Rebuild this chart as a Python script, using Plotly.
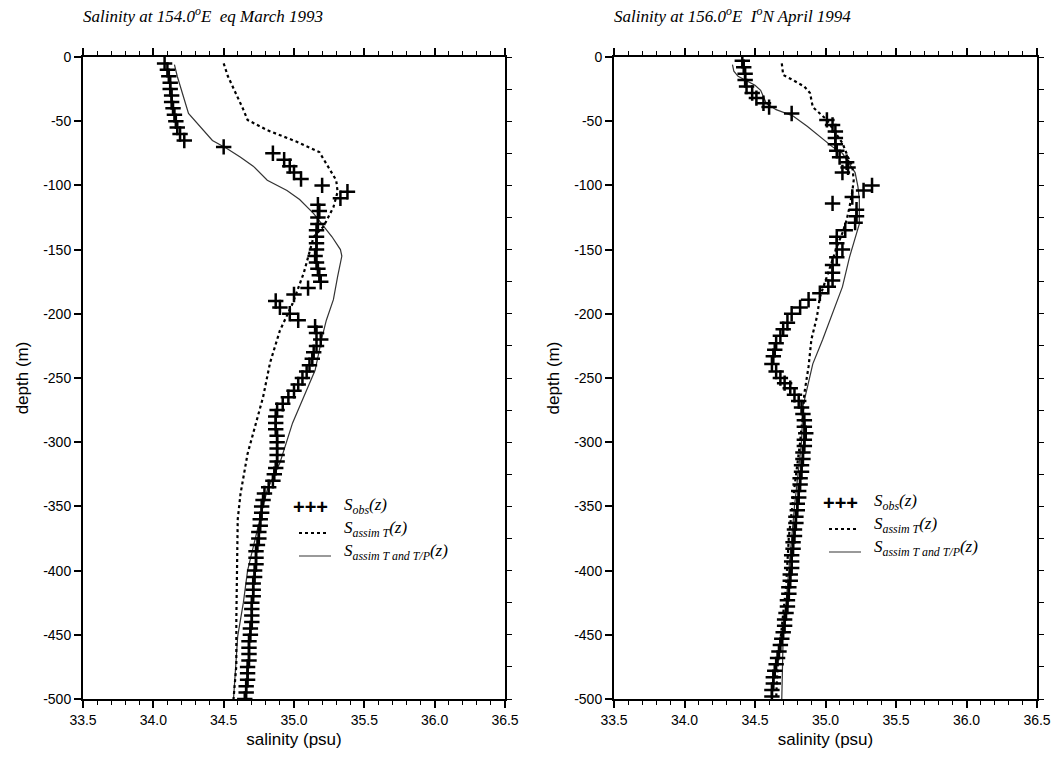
import plotly.graph_objects as go

# ---------------- data ----------------
# Left panel: 154.0E eq March 1993
obs1_depth = [-5, -10, -15, -20, -25, -30, -35, -40, -45, -50, -55, -60, -65,
              -70, -75, -80, -85, -90, -95, -100, -105, -110,
              -115, -120, -125, -130, -135, -140, -145, -150, -155, -160, -165, -170, -175,
              -180, -185, -190, -195, -200, -205, -210, -215, -220,
              -225, -230, -235, -240, -245, -250, -255, -260, -265, -270, -275,
              -280, -285, -290, -295, -300, -305, -310, -315, -320, -325, -330,
              -335, -340, -345, -350, -355, -360, -365, -370, -375, -380, -385,
              -390, -395, -400, -405, -410, -415, -420, -425, -430, -435, -440,
              -445, -450, -455, -460, -465, -470, -475, -480, -485, -490, -495, -500]
obs1_sal = [34.08, 34.10, 34.11, 34.12, 34.12, 34.13, 34.13, 34.14, 34.15, 34.16, 34.17, 34.19, 34.22,
            34.50, 34.85, 34.93, 34.97, 35.00, 35.05, 35.20, 35.38, 35.33,
            35.17, 35.18, 35.17, 35.17, 35.16, 35.16, 35.16, 35.16, 35.15, 35.16, 35.17, 35.18, 35.19,
            35.10, 35.00, 34.87, 34.90, 34.97, 35.03, 35.15, 35.16, 35.19,
            35.16, 35.14, 35.13, 35.11, 35.09, 35.06, 35.03, 35.00, 34.96, 34.92, 34.88,
            34.87, 34.87, 34.87, 34.88, 34.88, 34.88, 34.88, 34.88, 34.87, 34.86, 34.85,
            34.82, 34.79, 34.78, 34.77, 34.77, 34.76, 34.76, 34.75, 34.75, 34.74, 34.73,
            34.73, 34.73, 34.72, 34.72, 34.71, 34.71, 34.71, 34.70, 34.70, 34.70, 34.70,
            34.69, 34.69, 34.68, 34.68, 34.68, 34.68, 34.67, 34.67, 34.67, 34.66, 34.66, 34.65]

assimT1_depth = [-5, -15, -41, -49, -57, -66, -74, -96, -105, -117, -132, -140, -168, -192,
                 -213, -238, -265, -289, -309, -340, -360, -438, -474, -500]
assimT1_sal = [34.50, 34.53, 34.64, 34.67, 34.81, 35.02, 35.18, 35.30, 35.31, 35.28, 35.21, 35.14,
               35.07, 34.99, 34.90, 34.83, 34.78, 34.72, 34.67, 34.62, 34.60, 34.59, 34.59, 34.57]

assimTP1_depth = [-6, -15, -44, -54, -65, -71, -78, -85, -96, -104, -111, -122, -132, -140, -150,
                  -155, -171, -189, -205, -218, -244, -265, -285, -316, -337, -368, -400, -425,
                  -451, -500]
assimTP1_sal = [34.15, 34.17, 34.25, 34.33, 34.42, 34.52, 34.62, 34.71, 34.81, 34.95, 35.04, 35.14,
                35.21, 35.27, 35.33, 35.34, 35.31, 35.28, 35.23, 35.20, 35.15, 35.07, 34.99, 34.90,
                34.81, 34.74, 34.67, 34.64, 34.60, 34.57]

# Right panel: 156.0E 1N April 1994
obs2_depth = [-3, -8, -13, -18, -23, -28, -32, -36, -39, -44, -49, -53, -58, -63, -68, -73, -78,
              -82, -86, -90, -100, -104, -109, -114, -119, -124, -129, -135, -140, -145, -150,
              -156, -162, -168, -174, -179, -184, -189, -195, -200, -207, -212, -217, -223, -228,
              -233, -239, -245, -250, -254, -258, -263, -268, -273, -278, -283, -288, -293,
              -298, -303, -308, -313, -318, -323, -328, -333, -338, -343, -348, -353, -358,
              -363, -368, -373, -378, -383, -388, -393, -398, -403, -408, -413, -418, -423,
              -428, -433, -438, -443, -448, -453, -458, -463, -468, -473, -478, -483, -488,
              -493, -498]
obs2_sal = [34.41, 34.42, 34.43, 34.43, 34.44, 34.48, 34.51, 34.56, 34.60, 34.76, 35.01, 35.05,
            35.07, 35.07, 35.07, 35.08, 35.10, 35.15, 35.16, 35.12, 35.33, 35.27, 35.19, 35.05,
            35.22, 35.22, 35.21, 35.14, 35.08, 35.08, 35.12, 35.08, 35.05, 35.05, 35.05, 35.02,
            34.96, 34.88, 34.82, 34.76, 34.73, 34.70, 34.68, 34.65, 34.64, 34.63, 34.62, 34.65,
            34.68, 34.71, 34.75, 34.78, 34.81, 34.83, 34.84, 34.85, 34.85, 34.86,
            34.85, 34.85, 34.84, 34.84, 34.83, 34.83, 34.82, 34.82, 34.81, 34.81, 34.80, 34.80,
            34.79, 34.79, 34.78, 34.78, 34.77, 34.77, 34.76, 34.76, 34.76, 34.75, 34.75, 34.74,
            34.74, 34.73, 34.73, 34.72, 34.71, 34.71, 34.70, 34.69, 34.68, 34.67, 34.66, 34.65,
            34.64, 34.63, 34.63, 34.62, 34.62]

assimT2_depth = [-5, -14, -18, -23, -28, -39, -44, -49, -59, -67, -78, -85, -96, -105, -117, -127,
                 -137, -148, -171, -187, -202, -220, -241, -262, -277, -300, -335, -374, -413,
                 -452, -475, -500]
assimT2_sal = [34.69, 34.70, 34.77, 34.85, 34.89, 34.91, 34.96, 35.01, 35.07, 35.12, 35.16, 35.19,
               35.20, 35.19, 35.17, 35.15, 35.12, 35.08, 35.01, 34.96, 34.94, 34.90, 34.88, 34.85,
               34.84, 34.82, 34.78, 34.74, 34.72, 34.68, 34.66, 34.65]

assimTP2_depth = [-6, -11, -15, -19, -22, -26, -36, -41, -46, -54, -62, -70, -75, -83, -90, -101,
                  -111, -130, -137, -156, -179, -200, -220, -239, -257, -272, -300, -350, -400,
                  -450, -500]
assimTP2_sal = [34.34, 34.35, 34.38, 34.45, 34.50, 34.54, 34.58, 34.65, 34.77, 34.87, 34.96, 35.05,
                35.12, 35.17, 35.21, 35.23, 35.24, 35.24, 35.22, 35.17, 35.12, 35.05, 34.98, 34.91,
                34.87, 34.84, 34.83, 34.78, 34.74, 34.70, 34.69]

titles = ["Salinity at 154.0<sup>o</sup>E\u00a0\u00a0eq March 1993",
          "Salinity at 156.0<sup>o</sup>E\u00a0\u00a0I<sup>o</sup>N April 1994"]
legend_names = ["S<sub>obs</sub>(z)", "S<sub>assim T</sub>(z)", "S<sub>assim T and T/P</sub>(z)"]
xtick_vals = [33.5, 34.0, 34.5, 35.0, 35.5, 36.0, 36.5]
xtick_text = ["33.5", "34.0", "34.5", "35.0", "35.5", "36.0", "36.5"]
ytick_vals = [0, -50, -100, -150, -200, -250, -300, -350, -400, -450, -500]
ytick_text = ["0", "-50", "-100", "-150", "-200", "-250", "-300", "-350", "-400", "-450", "-500"]

# ---------------- figure ----------------
W, H = 1064, 761
SERIF = "Liberation Serif"
SANS = "Liberation Sans"

fig = go.Figure()

panels = [
    dict(obs=(obs1_sal, obs1_depth), t=(assimT1_sal, assimT1_depth), tp=(assimTP1_sal, assimTP1_depth),
         xa="x", ya="y"),
    dict(obs=(obs2_sal, obs2_depth), t=(assimT2_sal, assimT2_depth), tp=(assimTP2_sal, assimTP2_depth),
         xa="x2", ya="y2"),
]

for p in panels:
    fig.add_trace(go.Scatter(x=p["tp"][0], y=p["tp"][1], mode="lines", xaxis=p["xa"], yaxis=p["ya"],
                             line=dict(color="#333333", width=1.2), showlegend=False,
                             name=legend_names[2]))
    fig.add_trace(go.Scatter(x=p["t"][0], y=p["t"][1], mode="lines", xaxis=p["xa"], yaxis=p["ya"],
                             line=dict(color="black", width=2.2, dash="3px,3px"), showlegend=False,
                             name=legend_names[1]))
    fig.add_trace(go.Scatter(x=p["obs"][0], y=p["obs"][1], mode="markers", xaxis=p["xa"], yaxis=p["ya"],
                             marker=dict(symbol="cross-thin", size=11, color="black",
                                         line=dict(color="black", width=2.5)),
                             showlegend=False, name=legend_names[0]))

x_domains = [[83 / W, 505 / W], [614 / W, 1037 / W]]
y_domain = [1 - 699 / H, 1 - 57 / H]

common_x = dict(range=[33.5, 36.5], tickvals=xtick_vals, ticktext=xtick_text,
                ticks="outside", ticklen=7, tickwidth=1.5, tickcolor="black",
                showline=True, linewidth=2, linecolor="black", mirror="ticks",
                showgrid=False, zeroline=False, automargin=False,
                minor=dict(dtick=0.1, ticks="outside", ticklen=4, tickwidth=1, tickcolor="black",
                           showgrid=False),
                tickfont=dict(family=SANS, size=14, color="black"),
                title=dict(text="salinity (psu)", font=dict(family=SANS, size=17, color="black"),
                           standoff=6))
common_y = dict(range=[-500, 0], tickvals=ytick_vals, ticktext=ytick_text,
                ticks="outside", ticklen=7, tickwidth=1.5, tickcolor="black",
                showline=True, linewidth=2, linecolor="black", mirror=True,
                showgrid=False, zeroline=False, automargin=False,
                tickfont=dict(family=SANS, size=14, color="black"),
                title=dict(text="depth (m)", font=dict(family=SANS, size=17, color="black"),
                           standoff=10))
# right-hand tick-only axis (ticks every 25 m, no labels)
right_y = dict(range=[-500, 0], dtick=25, tick0=0, ticks="outside", ticklen=6, tickwidth=1.3,
               tickcolor="black", showticklabels=False, showline=False, showgrid=False,
               zeroline=False, side="right", automargin=False)

fig.update_layout(
    width=W, height=H, margin=dict(l=0, r=0, t=0, b=0),
    paper_bgcolor="white", plot_bgcolor="white", showlegend=False,
    xaxis=dict(domain=x_domains[0], anchor="y", **common_x),
    yaxis=dict(domain=y_domain, anchor="x", **common_y),
    xaxis2=dict(domain=x_domains[1], anchor="y2", **common_x),
    yaxis2=dict(domain=y_domain, anchor="x2", **common_y),
    yaxis3=dict(overlaying="y", anchor="x", **right_y),
    yaxis4=dict(overlaying="y2", anchor="x2", **right_y),
)

# invisible traces to activate the right-hand tick axes
for xa, ya in (("x", "y3"), ("x2", "y4")):
    fig.add_trace(go.Scatter(x=[None], y=[None], xaxis=xa, yaxis=ya, mode="markers",
                             showlegend=False, hoverinfo="skip"))

# titles
for i, t in enumerate(titles):
    fig.add_annotation(text="<i>" + t + "</i>", xref="paper", yref="paper",
                       x=x_domains[i][0] - 2 / W, y=1 - 15 / H, xanchor="left", yanchor="middle",
                       showarrow=False, font=dict(family=SERIF, size=17, color="black"))

# custom legends (glyph + italic label) inside each panel
legend_pos = [dict(gx=291, tx=342, rows=[506, 529, 552]),
              dict(gx=821, tx=872, rows=[502, 525, 548])]
for lp in legend_pos:
    r0, r1, r2 = lp["rows"]
    fig.add_annotation(text="<b>+++</b>", xref="paper", yref="paper",
                       x=lp["gx"] / W, y=1 - (r0 + 1) / H, xanchor="left", yanchor="middle",
                       showarrow=False, font=dict(family=SANS, size=20, color="black"))
    fig.add_shape(type="line", xref="paper", yref="paper",
                  x0=(lp["gx"] + 8) / W, x1=(lp["gx"] + 38) / W, y0=1 - (r1 + 4) / H, y1=1 - (r1 + 4) / H,
                  line=dict(color="black", width=2, dash="3px,3px"))
    fig.add_shape(type="line", xref="paper", yref="paper",
                  x0=(lp["gx"] + 8) / W, x1=(lp["gx"] + 40) / W, y0=1 - (r2 + 4) / H, y1=1 - (r2 + 4) / H,
                  line=dict(color="#555555", width=1.2))
    for name, r in zip(legend_names, lp["rows"]):
        fig.add_annotation(text="<i>" + name + "</i>", xref="paper", yref="paper",
                           x=lp["tx"] / W, y=1 - r / H, xanchor="left", yanchor="middle",
                           showarrow=False, font=dict(family=SERIF, size=17, color="black"))

fig.write_html("out.html", config={"displayModeBar": False},
               post_script="document.body.style.margin='0px';document.body.style.overflow='hidden';")
